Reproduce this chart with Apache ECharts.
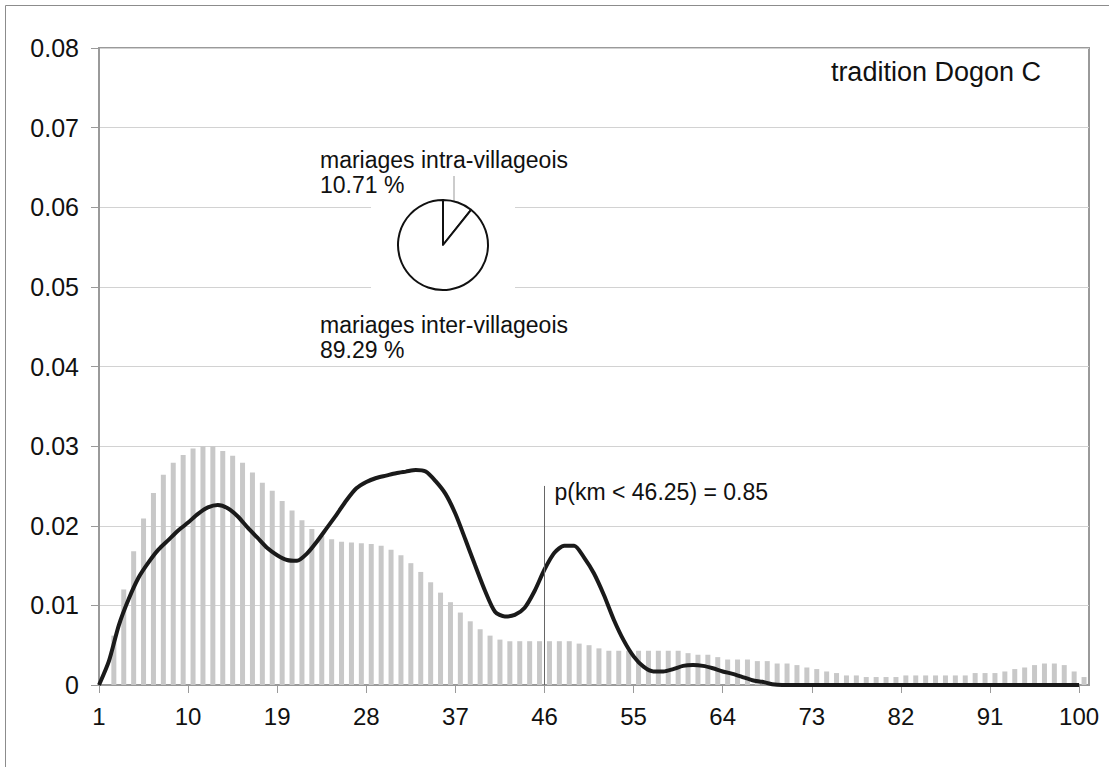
<!DOCTYPE html>
<html>
<head>
<meta charset="utf-8">
<script src="https://cdn.jsdelivr.net/npm/echarts@6/dist/echarts.min.js"></script>
<style>
  html, body { margin: 0; padding: 0; background: #fff; }
  #chart { width: 1109px; height: 767px; }
</style>
</head>
<body>
<div id="chart"></div>
<script>
// km classes 1..100
const kmLabels = Array.from({ length: 100 }, (_, i) => String(i + 1));

// observed distribution (gray bars)
const barValues = [
  0, 0.0062, 0.0120, 0.0168, 0.0209, 0.0241, 0.0264, 0.0279, 0.0289, 0.0297,
  0.0300, 0.0300, 0.0294, 0.0288, 0.0279, 0.0267, 0.0254, 0.0244, 0.0231, 0.0219,
  0.0207, 0.0196, 0.0187, 0.0183, 0.0180, 0.0179, 0.0178, 0.0177, 0.0175, 0.0170,
  0.0163, 0.0153, 0.0142, 0.0129, 0.0116, 0.0104, 0.0091, 0.0080, 0.0070, 0.0062,
  0.0057, 0.0055, 0.0055, 0.0055, 0.0055, 0.0055, 0.0055, 0.0055, 0.0052, 0.0050,
  0.0046, 0.0043, 0.0043, 0.0043, 0.0043, 0.0043, 0.0043, 0.0043, 0.0043, 0.0040,
  0.0038, 0.0038, 0.0035, 0.0032, 0.0032, 0.0032, 0.0030, 0.0030, 0.0027, 0.0027,
  0.0025, 0.0022, 0.0020, 0.0017, 0.0015, 0.0012, 0.0012, 0.0010, 0.0010, 0.0010,
  0.0010, 0.0012, 0.0012, 0.0012, 0.0012, 0.0012, 0.0012, 0.0012, 0.0015, 0.0015,
  0.0015, 0.0017, 0.0020, 0.0022, 0.0025, 0.0027, 0.0027, 0.0025, 0.0017, 0.0010
];

// tradition Dogon C (black curve)
const lineValues = [
  0, 0.0030, 0.0075, 0.0108, 0.0135, 0.0154, 0.0170, 0.0182, 0.0194, 0.0204,
  0.0215, 0.0223, 0.0226, 0.0222, 0.0212, 0.0198, 0.0185, 0.0172, 0.0163, 0.0157,
  0.0156, 0.0165, 0.0180, 0.0197, 0.0214, 0.0232, 0.0247, 0.0255, 0.0260, 0.0263,
  0.0266, 0.0268, 0.0270, 0.0268, 0.0256, 0.0240, 0.0215, 0.0183, 0.0150, 0.0118,
  0.0092, 0.0086, 0.0088, 0.0097, 0.0118, 0.0145, 0.0166, 0.0175, 0.0175, 0.0160,
  0.0140, 0.0113, 0.0082, 0.0056, 0.0036, 0.0023, 0.0017, 0.0017, 0.0020, 0.0024,
  0.0025, 0.0024, 0.0021, 0.0017, 0.0014, 0.0010, 0.0006, 0.0004, 0.0001, 0,
  0, 0, 0, 0, 0, 0, 0, 0, 0, 0,
  0, 0, 0, 0, 0, 0, 0, 0, 0, 0,
  0, 0, 0, 0, 0, 0, 0, 0, 0, 0
];

// inset pie
const pieNames = ['mariages intra-villageois', 'mariages inter-villageois'];
const pieValues = [10.71, 89.29];

// threshold marker
const thresholdKm = '46';
const thresholdTop = 0.025;
const thresholdText = 'p(km < 46.25) = 0.85';

const FONT = 'Liberation Sans, Arial, sans-serif';
const GRAY_AXIS = '#9a9a9a';

const chart = echarts.init(document.getElementById('chart'), null, { renderer: 'svg' });

const option = {
  animation: false,
  backgroundColor: '#fff',
  title: {
    text: 'tradition Dogon C',
    right: 68,
    top: 58,
    padding: 0,
    textStyle: { fontFamily: FONT, fontSize: 27, fontWeight: 'normal', color: '#111' }
  },
  grid: {
    left: 99, right: 20, top: 48, bottom: 82,
    show: true, borderColor: GRAY_AXIS, borderWidth: 2, backgroundColor: 'transparent'
  },
  xAxis: [
    {
      // bars: one band per km class
      type: 'category',
      data: kmLabels,
      boundaryGap: true,
      show: false
    },
    {
      // curve and labels: values sit on class boundaries
      type: 'category',
      position: 'bottom',
      data: kmLabels.concat(['']),
      boundaryGap: false,
      axisLine: { lineStyle: { color: GRAY_AXIS, width: 2 } },
      axisTick: { show: true, interval: 8, length: 8, lineStyle: { color: GRAY_AXIS, width: 1 } },
      axisLabel: { interval: 8, margin: 19, fontFamily: FONT, fontSize: 24, color: '#111' },
      splitLine: { show: false }
    }
  ],
  yAxis: {
    type: 'value',
    min: 0, max: 0.08, interval: 0.01,
    axisLine: { show: true, lineStyle: { color: GRAY_AXIS, width: 2 } },
    axisTick: { show: true, length: 8, lineStyle: { color: GRAY_AXIS } },
    axisLabel: {
      margin: 20, fontFamily: FONT, fontSize: 25, color: '#111',
      formatter: v => (v === 0 ? '0' : v.toFixed(2))
    },
    splitLine: { lineStyle: { color: '#d2d2d2', width: 1 } }
  },
  graphic: [
    // outer frame of the figure
    {
      type: 'rect', z: 0,
      shape: { x: 5.5, y: 5.5, width: 1120, height: 780 },
      style: { fill: 'none', stroke: '#8c8c8c', lineWidth: 1 }
    },
    // white plate under the pie
    {
      type: 'rect', z: 1,
      shape: { x: 371, y: 150, width: 144, height: 150 },
      style: { fill: '#fff' }
    },
    // leader line of the small slice
    {
      type: 'line', z: 3,
      shape: { x1: 454, y1: 176, x2: 454, y2: 211 },
      style: { stroke: '#999', lineWidth: 1 }
    }
  ],
  series: [
    {
      name: 'distribution',
      type: 'bar',
      xAxisIndex: 0,
      data: barValues,
      barWidth: 5,
      itemStyle: { color: '#c8c8c8' },
      z: 2
    },
    {
      name: 'tradition Dogon C',
      type: 'line',
      xAxisIndex: 1,
      data: lineValues,
      smooth: 0.25,
      symbol: 'none',
      lineStyle: { color: '#1a1a1a', width: 4 },
      z: 4,
      markLine: {
        silent: true,
        symbol: 'none',
        label: { show: false },
        lineStyle: { color: '#666', width: 1, type: 'solid' },
        data: [[{ coord: [thresholdKm, 0] }, { coord: [thresholdKm, thresholdTop] }]]
      },
      markPoint: {
        silent: true,
        symbol: 'circle',
        symbolSize: 0,
        data: [{ coord: [thresholdKm, thresholdTop] }],
        label: {
          show: true,
          position: 'right',
          distance: 10,
          offset: [0, 6],
          formatter: thresholdText,
          fontFamily: FONT, fontSize: 23, color: '#111'
        }
      }
    },
    {
      name: 'mariages',
      type: 'pie',
      center: [443, 245],
      radius: 45,
      startAngle: 90,
      clockwise: true,
      z: 3,
      data: pieNames.map((n, i) => ({ name: n, value: pieValues[i] })),
      itemStyle: { color: '#fff', borderColor: '#111', borderWidth: 2 },
      emphasis: { disabled: true },
      label: {
        show: true,
        formatter: '{b}\n{d} %',
        fontFamily: FONT, fontSize: 23, lineHeight: 25, color: '#111', align: 'left'
      },
      labelLine: { show: false },
      labelLayout: function (p) {
        return p.dataIndex === 0
          ? { x: 320, y: 147, align: 'left', verticalAlign: 'top' }
          : { x: 320, y: 312, align: 'left', verticalAlign: 'top' };
      }
    }
  ]
};

chart.setOption(option);
</script>
</body>
</html>
